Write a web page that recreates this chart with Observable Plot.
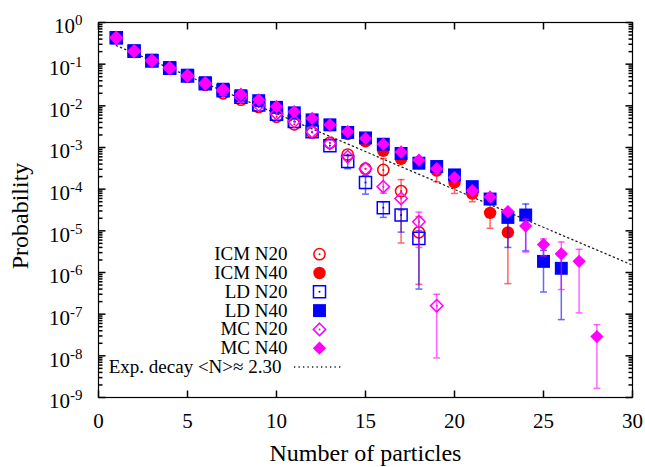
<!DOCTYPE html>
<html><head><meta charset="utf-8">
<script src="https://cdn.jsdelivr.net/npm/d3@7"></script>
<script src="https://cdn.jsdelivr.net/npm/@observablehq/plot@0.6"></script>
<style>body{margin:0;background:#fff}#chart{width:645px;height:467px}</style>
</head><body><div id="chart"></div>
<script>
// ---- data ----
const ICM_N20 = [0.43,0.205,0.12,0.078,0.05,0.032,0.02,0.014,0.0094,0.0055,0.0036,0.0023,0.0013,0.00068,0.00031,0.00029,0.00009,0.0000092];
const ICM_N20_lo = {16:0.00008, 17:0.0000051, 18:0.00000052};
const ICM_N20_hi = {16:0.00054, 17:0.00017, 18:0.000022};
const ICM_N40 = [0.43,0.21,0.125,0.082,0.054,0.036,0.025,0.017,0.013,0.0088,0.0066,0.0046,0.0034,0.0021,0.0014,0.00083,0.00053,0.00042,0.00028,0.000145,0.000078,0.000027,0.0000092];
const ICM_N40_lo = {19:0.00015, 20:0.000079, 21:0.00005, 22:0.0000115, 23:0.00000054};
const ICM_N40_hi = {19:0.0004, 20:0.00022, 21:0.00011, 22:0.000042, 23:0.000018};
const LD_N20 = [0.43,0.205,0.12,0.08,0.052,0.034,0.023,0.016,0.0105,0.0063,0.0042,0.0024,0.0011,0.00046,0.000145,0.000036,0.000024,0.0000066];
const LD_N20_lo = {14:0.00031, 15:0.000076, 16:0.000021, 17:0.0000093, 18:0.0000004};
const LD_N20_hi = {14:0.00065, 15:0.00021, 16:0.00005, 17:0.000032, 18:0.00001};
const LD_N40 = [0.43,0.21,0.125,0.083,0.0545,0.036,0.025,0.0175,0.0133,0.0092,0.0068,0.0046,0.0035,0.0023,0.0017,0.0012,0.00072,0.00042,0.00035,0.00022,0.000115,0.000058,0.000021,0.000024,0.00000185,0.00000126];
const LD_N40_lo = {23:0.000004, 24:0.0000033, 25:0.00000034, 26:0.000000074};
const LD_N40_hi = {23:0.00003, 24:0.000044, 25:0.0000034, 26:0.0000025};
const MC_N20 = [0.43,0.205,0.12,0.08,0.052,0.034,0.023,0.016,0.0105,0.0065,0.0042,0.0024,0.00125,0.0006,0.00031,0.000115,0.00006,0.0000165,0.00000016];
const MC_N20_lo = {18:0.000004, 19:0.0000000089};
const MC_N20_hi = {18:0.000028, 19:0.0000003};
const MC_N40 = [0.434,0.208,0.125,0.083,0.0545,0.036,0.025,0.019,0.0139,0.0096,0.0072,0.005,0.0035,0.0024,0.00165,0.0012,0.00078,0.0005,0.00031,0.00019,0.000092,0.000065,0.000029,0.000013,0.0000047,0.0000028,0.00000185,0.000000029];
const MC_N40_lo = {24:0.0000031, 25:0.0000025, 26:0.00000039, 27:0.000000107, 28:0.00000000166};
const MC_N40_hi = {24:0.000019, 25:0.0000064, 26:0.0000054, 27:0.0000036, 28:0.000000056};
const expDecayN = [1, 30];
const expDecayP = [0.28, 0.0000015];
const xTicks = [0, 5, 10, 15, 20, 25, 30];
const yExponents = [0, -1, -2, -3, -4, -5, -6, -7, -8, -9];

// ---- helpers ----
const FONT = '"Liberation Serif", "DejaVu Serif", serif';
const RED = "#ff0000", BLUE = "#0000ff", MAG = "#ff00ff";
const rows = (vals, lo, hi) => vals.map((p, i) => ({n: i + 1, p, lo: lo[i + 1], hi: hi[i + 1]}));
const lineSym = (x1, y1, x2, y2) => ({draw(ctx) { ctx.moveTo(x1, y1); ctx.lineTo(x2, y2); }});
const cap = lineSym(-3.5, 0, 3.5, 0);

const series = [
  {label: "ICM N20", data: rows(ICM_N20, ICM_N20_lo, ICM_N20_hi), color: RED, symbol: "circle", open: true, r: 5.6},
  {label: "ICM N40", data: rows(ICM_N40, ICM_N40_lo, ICM_N40_hi), color: RED, symbol: "circle", open: false, r: 6.2},
  {label: "LD N20", data: rows(LD_N20, LD_N20_lo, LD_N20_hi), color: BLUE, symbol: "square", open: true, r: 6.8},
  {label: "LD N40", data: rows(LD_N40, LD_N40_lo, LD_N40_hi), color: BLUE, symbol: "square", open: false, r: 7.3},
  {label: "MC N20", data: rows(MC_N20, MC_N20_lo, MC_N20_hi), color: MAG, symbol: "diamond2", open: true, r: 5.6},
  {label: "MC N40", data: rows(MC_N40, MC_N40_lo, MC_N40_hi), color: MAG, symbol: "diamond2", open: false, r: 6.0}
];

const yMajor = yExponents.map(e => Math.pow(10, e));
const yMinor = [];
for (const e of yExponents.slice(1)) for (let m = 2; m <= 9; m++) yMinor.push(m * Math.pow(10, e));
const expLine = expDecayN.map((n, i) => ({n, p: expDecayP[i]}));

const marks = [];
marks.push(Plot.line(expLine, {x: "n", y: "p", stroke: "#222", strokeWidth: 1.3, strokeDasharray: "1.3,3.2"}));
for (const s of series) {
  const err = s.data.filter(d => d.lo != null);
  marks.push(Plot.ruleX(err, {x: "n", y1: "lo", y2: "hi", stroke: s.color, strokeOpacity: 0.6, strokeWidth: 1.5}));
  marks.push(Plot.dot(err, {x: "n", y: "lo", symbol: cap, stroke: s.color, strokeOpacity: 0.6, strokeWidth: 1.5, fill: "none"}));
  marks.push(Plot.dot(err, {x: "n", y: "hi", symbol: cap, stroke: s.color, strokeOpacity: 0.6, strokeWidth: 1.5, fill: "none"}));
  if (s.open) {
    marks.push(Plot.dot(s.data, {x: "n", y: "p", symbol: s.symbol, r: s.r, stroke: s.color, strokeWidth: 1.5, fill: "none"}));
    marks.push(Plot.dot(s.data, {x: "n", y: "p", r: 1, fill: s.color, stroke: "none"}));
  } else {
    marks.push(Plot.dot(s.data, {x: "n", y: "p", symbol: s.symbol, r: s.r, fill: s.color, stroke: "none"}));
  }
}
marks.push(Plot.frame({stroke: "black", strokeWidth: 1.2}));
marks.push(Plot.dot(xTicks, {x: d => d, y: yMajor[yMajor.length - 1], symbol: lineSym(0, 0, 0, -7), stroke: "black", fill: "none"}));
marks.push(Plot.dot(xTicks, {x: d => d, y: yMajor[0], symbol: lineSym(0, 0, 0, 7), stroke: "black", fill: "none"}));
marks.push(Plot.dot(yMajor, {x: xTicks[0], y: d => d, symbol: lineSym(0, 0, 7, 0), stroke: "black", fill: "none"}));
marks.push(Plot.dot(yMajor, {x: xTicks[xTicks.length - 1], y: d => d, symbol: lineSym(0, 0, -7, 0), stroke: "black", fill: "none"}));
marks.push(Plot.dot(yMinor, {x: xTicks[0], y: d => d, symbol: lineSym(0, 0, 4, 0), stroke: "black", fill: "none"}));
marks.push(Plot.dot(yMinor, {x: xTicks[xTicks.length - 1], y: d => d, symbol: lineSym(0, 0, -4, 0), stroke: "black", fill: "none"}));
marks.push(Plot.text(xTicks, {x: d => d, y: yMajor[yMajor.length - 1], dy: 24, text: d => String(d), fontSize: 21, fill: "black"}));
marks.push(Plot.text(yExponents, {x: xTicks[0], y: e => Math.pow(10, e), dx: -16, dy: 4, textAnchor: "end", text: e => "10^" + e, fontSize: 21, fill: "black"}));
marks.push(Plot.text(["Number of particles"], {frameAnchor: "bottom", dy: 56, lineAnchor: "middle", textAnchor: "middle", fontSize: 24, fill: "black"}));
marks.push(Plot.text(["Probability"], {frameAnchor: "left", dx: -78, dy: 6, rotate: -90, lineAnchor: "middle", textAnchor: "middle", fontSize: 24, fill: "black"}));
const legendTop = 231.7, legendStep = 18.8;
series.forEach((s, i) => {
  const dy = legendTop + i * legendStep;
  marks.push(Plot.text([s.label], {frameAnchor: "top-left", dx: 189, dy, textAnchor: "end", lineAnchor: "middle", fontSize: 19, fill: "black"}));
  if (s.open) {
    marks.push(Plot.dot([0], {frameAnchor: "top-left", dx: 221, dy, symbol: s.symbol, r: s.r, stroke: s.color, strokeWidth: 1.5, fill: "none"}));
    marks.push(Plot.dot([0], {frameAnchor: "top-left", dx: 221, dy, r: 1, fill: s.color, stroke: "none"}));
  } else {
    marks.push(Plot.dot([0], {frameAnchor: "top-left", dx: 221, dy, symbol: s.symbol, r: s.r, fill: s.color, stroke: "none"}));
  }
});
{
  const dy = legendTop + 6 * legendStep;
  marks.push(Plot.text(["Exp. decay <N>≈ 2.30"], {frameAnchor: "top-left", dx: 183, dy, textAnchor: "end", lineAnchor: "middle", fontSize: 19, fill: "black"}));
  marks.push(Plot.dot([0], {frameAnchor: "top-left", dx: 220, dy, symbol: lineSym(-24.5, 0, 24.5, 0), stroke: "#222", strokeWidth: 1.3, strokeDasharray: "1.3,3.2", fill: "none"}));
}

const chart = Plot.plot({
  width: 645, height: 467,
  marginLeft: 98, marginRight: 13, marginTop: 22, marginBottom: 70,
  x: {domain: [0, 30], axis: null},
  y: {type: "log", domain: [1e-9, 1], axis: null},
  style: {fontFamily: FONT, background: "white", color: "black"},
  marks
});
d3.select(chart).selectAll("text").each(function () {
  const t = d3.select(this);
  const s = t.text();
  if (!/^10\^/.test(s)) return;
  const [base, exp] = s.split("^");
  t.text(null);
  t.append("tspan").text(base);
  t.append("tspan").attr("dy", "-8").attr("font-size", 15).text(exp);
});
document.getElementById("chart").appendChild(chart);
</script>
</body></html>
